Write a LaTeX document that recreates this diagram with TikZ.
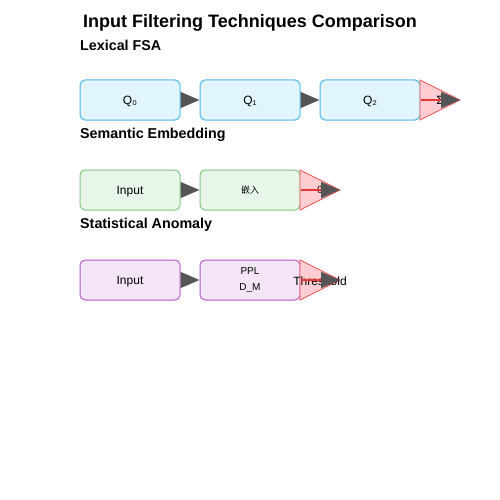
\documentclass[tikz,border=0pt]{standalone}
\usepackage{fontspec}
\setmainfont{Liberation Sans}
\newfontfamily\cjkfont{Noto Sans CJK SC}
\usetikzlibrary{arrows.meta}
\definecolor{bluefill}{HTML}{E1F5FE}
\definecolor{bluedraw}{HTML}{4FB8EC}
\definecolor{greenfill}{HTML}{E8F5E9}
\definecolor{greendraw}{HTML}{81C784}
\definecolor{purpfill}{HTML}{F3E5F5}
\definecolor{purpdraw}{HTML}{B05CC8}
\definecolor{trifill}{HTML}{FFCDD2}
\definecolor{tridraw}{HTML}{EF5350}
\definecolor{redline}{HTML}{E53935}
\definecolor{headgray}{HTML}{555555}
\tikzset{
  stagebase/.style={draw, rounded corners=5pt, minimum width=100pt, minimum height=40pt, inner sep=0pt, line width=1pt, font=\fontsize{12}{14}\selectfont},
  stagebox/.style={stagebase, text height=9pt, text depth=0pt},
  bluebox/.style={stagebox, fill=bluefill, draw=bluedraw},
  greenbox/.style={stagebox, fill=greenfill, draw=greendraw},
  purpbox/.style={stagebox, fill=purpfill, draw=purpdraw},
  secttitle/.style={anchor=west, font=\bfseries\fontsize{14.3}{16}\selectfont, inner sep=0pt},
  flow/.style={line width=1pt, -{Triangle[length=19pt,width=16pt,fill=headgray,color=headgray]}},
  outflow/.style={draw=redline, line width=2pt, -{Triangle[length=19pt,width=16pt,fill=headgray,color=headgray]}},
  tri/.style={fill=trifill, draw=tridraw, line width=0.8pt},
  trilabel/.style={font=\fontsize{12}{14}\selectfont, inner sep=0pt, text height=9pt, text depth=0pt},
}
\begin{document}
\begin{tikzpicture}[x=1pt,y=-1pt]
\useasboundingbox (0,0) rectangle (500,500);
\fill[white] (0,0) rectangle (500,500);
\node[font=\bfseries\fontsize{18}{21}\selectfont] (title) at (250,23) {Input Filtering Techniques Comparison};

% Row 1
\node[secttitle] (s1) at (80,45) {Lexical FSA};
\node[bluebox] (a1) at (130,100) {Q₀};
\node[bluebox] (a2) at (250,100) {Q₁};
\node[bluebox] (a3) at (370,100) {Q₂};
\coordinate (t1tip) at (460,100);
\draw[tri] (420,80) -- (460,100) -- (420,120) -- cycle;
\node[trilabel] (l1) at (440,100) {Σ};
\draw[flow, draw=bluedraw] (a1.east) -- (a2.west);
\draw[flow, draw=bluedraw] (a2.east) -- (a3.west);
\draw[outflow] (a3.east) -- (t1tip);

% Row 2
\node[secttitle] (s2) at (80,135) {Semantic Embedding};
\node[greenbox] (b1) at (130,190) {Input};
\node[greenbox, font=\cjkfont\fontsize{9}{11}\selectfont, text height=7pt] (b2) at (250,190) {嵌入};
\coordinate (t2tip) at (340,190);
\draw[tri] (300,170) -- (340,190) -- (300,210) -- cycle;
\node[trilabel, font=\fontsize{10}{12}\selectfont, text height=7.5pt] (l2) at (320,190) {θ};
\draw[flow, draw=greendraw] (b1.east) -- (b2.west);
\draw[outflow] (b2.east) -- (t2tip);

% Row 3
\node[secttitle] (s3) at (80,225) {Statistical Anomaly};
\node[purpbox] (c1) at (130,280) {Input};
\node[stagebase, fill=purpfill, draw=purpdraw, align=center, font=\fontsize{10}{16}\selectfont] (c2) at (250,280) {PPL\\D\_M};
\coordinate (t3tip) at (340,280);
\draw[tri] (300,260) -- (340,280) -- (300,300) -- cycle;
\node[trilabel] (l3) at (320,281) {Threshold};
\draw[flow, draw=purpdraw] (c1.east) -- (c2.west);
\draw[outflow] (c2.east) -- (t3tip);
\end{tikzpicture}
\end{document}
